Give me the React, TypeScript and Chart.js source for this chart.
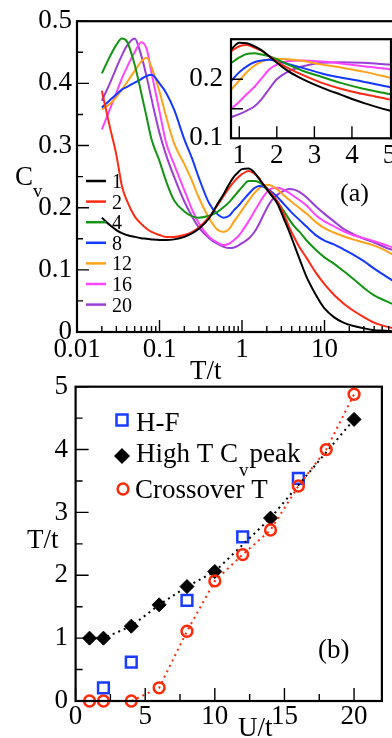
import React, { useEffect, useRef } from 'react';
import { Chart, registerables } from 'chart.js';

Chart.register(...registerables);

const FONT = "'Liberation Serif', 'Times New Roman', Times, serif";

// ---------------- Panel (a): specific heat vs temperature (main axes) ----------------
const temps = [0.02, 0.025, 0.03, 0.035, 0.04, 0.05, 0.06, 0.07, 0.08, 0.1, 0.12, 0.15, 0.2, 0.25, 0.3,
  0.4, 0.5, 0.6, 0.7, 0.8, 0.9, 1.0, 1.2, 1.4, 1.6, 1.8, 2.0, 2.3, 2.7, 3.2, 3.7, 4.3, 5, 6, 8,
  10, 13, 17, 22, 30, 40, 55, 70, 100];

const uLabels = ['1', '2', '4', '8', '12', '16', '20'];

const cvU1 = [0.184, 0.172, 0.164, 0.159, 0.156, 0.153, 0.151, 0.150, 0.149, 0.148, 0.148, 0.149, 0.153, 0.159, 0.166,
  0.183, 0.205, 0.222, 0.238, 0.250, 0.257, 0.262, 0.263, 0.257, 0.247, 0.238, 0.230, 0.219, 0.206, 0.183, 0.163, 0.140, 0.117, 0.090, 0.058,
  0.038, 0.024, 0.015, 0.010, 0.006, 0.003, 0.002, 0.001, 0.000];
const cvU2 = [0.388, 0.330, 0.285, 0.235, 0.212, 0.186, 0.174, 0.166, 0.161, 0.156, 0.153, 0.153, 0.156, 0.161, 0.168,
  0.185, 0.203, 0.219, 0.232, 0.242, 0.249, 0.254, 0.259, 0.255, 0.248, 0.238, 0.231, 0.222, 0.210, 0.190, 0.170, 0.152, 0.136, 0.120, 0.094,
  0.077, 0.060, 0.046, 0.035, 0.024, 0.015, 0.009, 0.006, 0.003];
const cvU4 = [0.416, 0.443, 0.462, 0.472, 0.468, 0.430, 0.385, 0.345, 0.310, 0.275, 0.243, 0.212, 0.194, 0.186, 0.184,
  0.187, 0.193, 0.201, 0.209, 0.218, 0.226, 0.233, 0.243, 0.243, 0.241, 0.236, 0.229, 0.219, 0.209, 0.195, 0.182, 0.170, 0.161, 0.148, 0.131,
  0.120, 0.110, 0.098, 0.086, 0.071, 0.059, 0.050, 0.044, 0.034];
const cvU8 = [0.361, 0.373, 0.382, 0.390, 0.394, 0.401, 0.407, 0.412, 0.414, 0.400, 0.385, 0.358, 0.310, 0.278, 0.248,
  0.207, 0.190, 0.184, 0.187, 0.196, 0.203, 0.210, 0.222, 0.231, 0.235, 0.234, 0.231, 0.225, 0.217, 0.206, 0.197, 0.188, 0.180, 0.170, 0.155,
  0.147, 0.141, 0.133, 0.125, 0.114, 0.102, 0.090, 0.081, 0.068];
const cvU12 = [0.358, 0.367, 0.378, 0.390, 0.401, 0.420, 0.435, 0.441, 0.426, 0.387, 0.347, 0.304, 0.270, 0.242, 0.216,
  0.183, 0.165, 0.161, 0.166, 0.178, 0.187, 0.196, 0.211, 0.223, 0.231, 0.236, 0.237, 0.235, 0.229, 0.220, 0.213, 0.206, 0.199, 0.191, 0.176,
  0.167, 0.160, 0.154, 0.149, 0.144, 0.139, 0.131, 0.123, 0.107];
const cvU16 = [0.326, 0.358, 0.385, 0.408, 0.425, 0.450, 0.466, 0.455, 0.417, 0.355, 0.305, 0.270, 0.228, 0.196, 0.175,
  0.153, 0.144, 0.140, 0.142, 0.148, 0.154, 0.162, 0.178, 0.193, 0.206, 0.217, 0.225, 0.231, 0.232, 0.229, 0.224, 0.218, 0.212, 0.204, 0.187,
  0.178, 0.170, 0.162, 0.156, 0.151, 0.146, 0.140, 0.135, 0.125];
const cvU20 = [0.372, 0.400, 0.425, 0.445, 0.460, 0.472, 0.445, 0.410, 0.375, 0.320, 0.285, 0.250, 0.210, 0.185, 0.168,
  0.151, 0.142, 0.137, 0.135, 0.136, 0.139, 0.143, 0.150, 0.160, 0.173, 0.187, 0.199, 0.212, 0.221, 0.227, 0.230, 0.229, 0.225, 0.217, 0.201,
  0.190, 0.178, 0.166, 0.158, 0.150, 0.144, 0.136, 0.131, 0.122];

// ---------------- Panel (a) inset: linear T axis ----------------
const insetTemps = [0.75, 1.0, 1.2, 1.4, 1.6, 1.8, 2.0, 2.3, 2.7, 3.2, 3.7, 4.3, 5.0, 5.2];
const insetU1 = [0.248, 0.262, 0.261, 0.256, 0.249, 0.239, 0.228, 0.214, 0.200, 0.186, 0.174, 0.160, 0.147, 0.144];
const insetU2 = [0.246, 0.256, 0.258, 0.254, 0.248, 0.239, 0.230, 0.219, 0.207, 0.194, 0.184, 0.175, 0.166, 0.163];
const insetU4 = [0.226, 0.237, 0.243, 0.244, 0.242, 0.239, 0.234, 0.225, 0.214, 0.204, 0.194, 0.184, 0.175, 0.172];
const insetU8 = [0.195, 0.212, 0.222, 0.229, 0.232, 0.233, 0.231, 0.226, 0.219, 0.210, 0.203, 0.196, 0.187, 0.184];
const insetU12 = [0.180, 0.198, 0.212, 0.223, 0.230, 0.234, 0.235, 0.234, 0.231, 0.225, 0.220, 0.213, 0.203, 0.200];
const insetU16 = [0.148, 0.162, 0.175, 0.187, 0.202, 0.217, 0.225, 0.231, 0.232, 0.230, 0.227, 0.222, 0.217, 0.215];
const insetU20 = [0.135, 0.141, 0.147, 0.154, 0.167, 0.184, 0.200, 0.213, 0.222, 0.228, 0.229, 0.228, 0.225, 0.224];

const cvSeries = [cvU1, cvU2, cvU4, cvU8, cvU12, cvU16, cvU20];
const insetSeries = [insetU1, insetU2, insetU4, insetU8, insetU12, insetU16, insetU20];
const curveColors = ['#000000', '#ff2a14', '#139413', '#1438ff', '#ffa31a', '#ff44ff', '#9a3fd6'];

const mainXTicks = [0.01, 0.1, 1, 10];
const mainYTicks = [0, 0.1, 0.2, 0.3, 0.4, 0.5];
const insetXTicks = [1, 2, 3, 4, 5];
const insetYTicks = [0.1, 0.2];

// ---------------- Panel (b): characteristic temperatures vs U ----------------
const hfU = [2, 4, 8, 12, 16];
const hfT = [0.21, 0.62, 1.6, 2.61, 3.54];
const peakU = [1, 2, 4, 6, 8, 10, 14, 20];
const peakT = [1.0, 1.0, 1.19, 1.53, 1.82, 2.06, 2.91, 4.48];
const crossU = [1, 2, 4, 6, 8, 10, 12, 14, 16, 18, 20];
const crossT = [0, 0, 0, 0.21, 1.11, 1.91, 2.33, 2.72, 3.42, 4.0, 4.88];
const bXTicks = [0, 5, 10, 15, 20];
const bYTicks = [0, 1, 2, 3, 4, 5];

const HF_BLUE = '#1a3cff';
const CROSS_RED = '#ff2a0a';

// ---------------- helpers ----------------
interface FrameSpec {
  xMajor: number[]; xMinor: number[]; yMajor: number[]; yMinor: number[];
  majorLen: number; minorLen: number; frameWidth: number; tickWidth: number; whiteFill?: boolean;
}

function framePlugin(spec: FrameSpec) {
  return {
    id: 'frameTicks',
    beforeDatasetsDraw(chart: any) {
      if (!spec.whiteFill) return;
      const { ctx, chartArea: a } = chart;
      ctx.save();
      ctx.fillStyle = '#ffffff';
      ctx.fillRect(a.left, a.top, a.right - a.left, a.bottom - a.top);
      ctx.restore();
    },
    afterDatasetsDraw(chart: any) {
      const { ctx, chartArea: a } = chart;
      const xs = chart.scales.x;
      const ys = chart.scales.y;
      ctx.save();
      ctx.strokeStyle = '#000';
      ctx.lineWidth = spec.tickWidth;
      ctx.beginPath();
      const xt = (v: number, len: number) => {
        const p = xs.getPixelForValue(v);
        if (p < a.left - 0.5 || p > a.right + 0.5) return;
        ctx.moveTo(p, a.bottom);
        ctx.lineTo(p, a.bottom - len);
      };
      const yt = (v: number, len: number) => {
        const p = ys.getPixelForValue(v);
        if (p < a.top - 0.5 || p > a.bottom + 0.5) return;
        ctx.moveTo(a.left, p);
        ctx.lineTo(a.left + len, p);
      };
      spec.xMajor.forEach((v) => xt(v, spec.majorLen));
      spec.xMinor.forEach((v) => xt(v, spec.minorLen));
      spec.yMajor.forEach((v) => yt(v, spec.majorLen));
      spec.yMinor.forEach((v) => yt(v, spec.minorLen));
      ctx.stroke();
      ctx.lineWidth = spec.frameWidth;
      ctx.strokeRect(a.left, a.top, a.right - a.left, a.bottom - a.top);
      ctx.restore();
    },
  };
}

function textPlugin(draw: (ctx: CanvasRenderingContext2D) => void) {
  return {
    id: 'annotations',
    afterDraw(chart: any) {
      const ctx = chart.ctx as CanvasRenderingContext2D;
      ctx.save();
      ctx.fillStyle = '#000';
      ctx.textBaseline = 'alphabetic';
      ctx.textAlign = 'left';
      draw(ctx);
      ctx.restore();
    },
  };
}

const tickFont = { family: FONT, size: 27 };

function fixedTicks(values: number[]) {
  return (scale: any) => {
    scale.ticks = values.map((v) => ({ value: v }));
  };
}

const logMinor: number[] = [];
[0.01, 0.1, 1, 10].forEach((d) => {
  for (let k = 2; k <= 9; k++) logMinor.push(Number((d * k).toPrecision(3)));
});

function curveDatasets(xs: number[], series: number[][], width: number) {
  return series.map((ys, i) => ({
    label: uLabels[i],
    data: xs.map((t, j) => ({ x: t, y: ys[j] })),
    borderColor: curveColors[i],
    backgroundColor: curveColors[i],
    borderWidth: width,
    pointRadius: 0,
    cubicInterpolationMode: 'monotone' as const,
    fill: false,
  }));
}

function mainConfig(): any {
  return {
    type: 'line',
    data: { datasets: curveDatasets(temps, cvSeries, 2) },
    options: {
      animation: false,
      responsive: false,
      events: [],
      layout: { padding: { left: 0, top: 19, right: 13, bottom: 0 } },
      plugins: { legend: { display: false }, tooltip: { enabled: false } },
      scales: {
        x: {
          type: 'logarithmic', min: 0.01, max: 100,
          grid: { display: false, drawTicks: false }, border: { display: false },
          afterBuildTicks: fixedTicks(mainXTicks),
          afterFit: (s: any) => { s.height = 53; },
          ticks: { color: '#000', font: tickFont, padding: 2, maxRotation: 0, autoSkip: false, callback: (v: any) => String(v) },
        },
        y: {
          type: 'linear', min: 0, max: 0.5,
          grid: { display: false, drawTicks: false }, border: { display: false },
          afterBuildTicks: fixedTicks(mainYTicks),
          afterFit: (s: any) => { s.width = 77; },
          ticks: { color: '#000', font: tickFont, padding: 5, autoSkip: false, callback: (v: any) => String(v) },
        },
      },
    },
    plugins: [
      framePlugin({
        xMajor: [0.01, 0.1, 1, 10, 100], xMinor: logMinor,
        yMajor: mainYTicks, yMinor: [0.05, 0.15, 0.25, 0.35, 0.45],
        majorLen: 12, minorLen: 6, frameWidth: 2.2, tickWidth: 1.4,
      }),
      textPlugin((ctx) => {
        ctx.font = `27px ${FONT}`;
        ctx.fillText('C', 15, 185);
        ctx.font = `19px ${FONT}`;
        ctx.fillText('v', 33, 197);
        ctx.font = `27px ${FONT}`;
        ctx.fillText('T/t', 190, 379);
        ctx.font = `26px ${FONT}`;
        ctx.fillText('(a)', 340, 201);
        uLabels.forEach((u, i) => {
          const y = 181 + i * 20.6;
          ctx.strokeStyle = curveColors[i];
          ctx.lineWidth = 2.5;
          ctx.beginPath();
          ctx.moveTo(86, y);
          ctx.lineTo(106, y);
          ctx.stroke();
          ctx.font = `20px ${FONT}`;
          ctx.fillText(u, 112, y + 7);
        });
      }),
    ],
  };
}

function insetConfig(): any {
  return {
    type: 'line',
    data: { datasets: curveDatasets(insetTemps, insetSeries, 2) },
    options: {
      animation: false,
      responsive: false,
      events: [],
      layout: { padding: { left: 0, top: 7.7, right: 19, bottom: 0 } },
      plugins: { legend: { display: false }, tooltip: { enabled: false } },
      scales: {
        x: {
          type: 'linear', min: 0.78, max: 5.04,
          grid: { display: false, drawTicks: false }, border: { display: false },
          afterBuildTicks: fixedTicks(insetXTicks),
          afterFit: (s: any) => { s.height = 36.7; },
          ticks: { color: '#000', font: tickFont, padding: 1.5, maxRotation: 0, autoSkip: false, callback: (v: any) => String(v) },
        },
        y: {
          type: 'linear', min: 0.1, max: 0.268,
          grid: { display: false, drawTicks: false }, border: { display: false },
          afterBuildTicks: fixedTicks(insetYTicks),
          afterFit: (s: any) => { s.width = 51; },
          ticks: { color: '#000', font: tickFont, padding: 8, autoSkip: false, callback: (v: any) => String(v) },
        },
      },
    },
    plugins: [
      framePlugin({
        xMajor: [1, 2, 3, 4], xMinor: [],
        yMajor: [0.15, 0.2], yMinor: [],
        majorLen: 12, minorLen: 6, frameWidth: 2.2, tickWidth: 1.4, whiteFill: true,
      }),
    ],
  };
}

function panelBConfig(): any {
  return {
    type: 'scatter',
    data: {
      datasets: [
        {
          label: 'Crossover T',
          data: crossU.map((u, i) => ({ x: u, y: crossT[i] })),
          showLine: true, borderColor: CROSS_RED, borderWidth: 2, borderDash: [2, 4],
          pointStyle: 'circle', pointRadius: 5.4, pointBorderWidth: 2.5,
          pointBorderColor: CROSS_RED, pointBackgroundColor: 'rgba(255,255,255,0)',
          clip: false, order: 1,
        },
        {
          label: 'High T Cv peak',
          data: peakU.map((u, i) => ({ x: u, y: peakT[i] })),
          showLine: true, borderColor: '#000', borderWidth: 2, borderDash: [2, 4],
          pointStyle: 'rectRot', pointRadius: 7, pointBorderWidth: 1,
          pointBorderColor: '#000', pointBackgroundColor: '#000',
          clip: false, order: 2,
        },
        {
          label: 'H-F',
          data: hfU.map((u, i) => ({ x: u, y: hfT[i] })),
          showLine: false,
          pointStyle: 'rect', pointRadius: 7.6, pointBorderWidth: 2.5,
          pointBorderColor: HF_BLUE, pointBackgroundColor: 'rgba(255,255,255,0)',
          clip: false, order: 3,
        },
      ],
    },
    options: {
      animation: false,
      responsive: false,
      events: [],
      layout: { padding: { left: 0, top: 26.7, right: 3, bottom: 0 } },
      plugins: { legend: { display: false }, tooltip: { enabled: false } },
      scales: {
        x: {
          type: 'linear', min: 0, max: 22,
          grid: { display: false, drawTicks: false }, border: { display: false },
          afterBuildTicks: fixedTicks(bXTicks),
          afterFit: (s: any) => { s.height = 37; },
          ticks: { color: '#000', font: tickFont, padding: 0, maxRotation: 0, autoSkip: false, callback: (v: any) => String(v) },
        },
        y: {
          type: 'linear', min: 0, max: 5,
          grid: { display: false, drawTicks: false }, border: { display: false },
          afterBuildTicks: fixedTicks(bYTicks),
          afterFit: (s: any) => { s.width = 75.6; },
          ticks: { color: '#000', font: tickFont, padding: 7.5, autoSkip: false, callback: (v: any) => String(v) },
        },
      },
    },
    plugins: [
      framePlugin({
        xMajor: bXTicks, xMinor: [2.5, 7.5, 12.5, 17.5],
        yMajor: bYTicks, yMinor: [0.5, 1.5, 2.5, 3.5, 4.5],
        majorLen: 13, minorLen: 7, frameWidth: 2.2, tickWidth: 1.4,
      }),
      textPlugin((ctx) => {
        ctx.font = `27px ${FONT}`;
        ctx.fillText('T/t', 27, 188);
        ctx.fillText('U/t', 238, 376);
        ctx.fillText('(b)', 318, 298);
        // legend markers
        ctx.lineWidth = 2.5;
        ctx.strokeStyle = HF_BLUE;
        ctx.strokeRect(122 - 5.5, 60 - 5.5, 11, 11);
        ctx.fillStyle = '#000';
        ctx.beginPath();
        ctx.moveTo(122, 96 - 8);
        ctx.lineTo(130, 96);
        ctx.lineTo(122, 96 + 8);
        ctx.lineTo(114, 96);
        ctx.closePath();
        ctx.fill();
        ctx.strokeStyle = CROSS_RED;
        ctx.beginPath();
        ctx.arc(123, 129, 5.4, 0, Math.PI * 2);
        ctx.stroke();
        // legend texts
        ctx.fillStyle = '#000';
        ctx.font = `27px ${FONT}`;
        ctx.fillText('H-F', 136, 71);
        let x = 136;
        const main1 = 'High T C';
        ctx.fillText(main1, x, 101.5);
        x += ctx.measureText(main1).width + 1;
        ctx.font = `19px ${FONT}`;
        ctx.fillText('v', x, 116);
        x += ctx.measureText('v').width + 1;
        ctx.font = `27px ${FONT}`;
        ctx.fillText('peak', x, 101.5);
        ctx.fillText('Crossover T', 135, 138);
      }),
    ],
  };
}

export default function App() {
  const aRef = useRef<HTMLCanvasElement>(null);
  const insetRef = useRef<HTMLCanvasElement>(null);
  const bRef = useRef<HTMLCanvasElement>(null);

  useEffect(() => {
    const charts: Chart[] = [];
    if (aRef.current) charts.push(new Chart(aRef.current, mainConfig()));
    if (insetRef.current) charts.push(new Chart(insetRef.current, insetConfig()));
    if (bRef.current) charts.push(new Chart(bRef.current, panelBConfig()));
    return () => charts.forEach((c) => c.destroy());
  }, []);

  return (
    <div style={{ position: 'fixed', left: 0, top: 0, width: 392, height: 738, overflow: 'hidden', background: '#ffffff' }}>
      <canvas ref={aRef} width={420} height={385} style={{ position: 'absolute', left: 0, top: 0, width: 420, height: 385 }} />
      <canvas ref={bRef} width={392} height={378} style={{ position: 'absolute', left: 0, top: 360, width: 392, height: 378 }} />
      <canvas ref={insetRef} width={230} height={160} style={{ position: 'absolute', left: 180, top: 15, width: 230, height: 160 }} />
    </div>
  );
}
